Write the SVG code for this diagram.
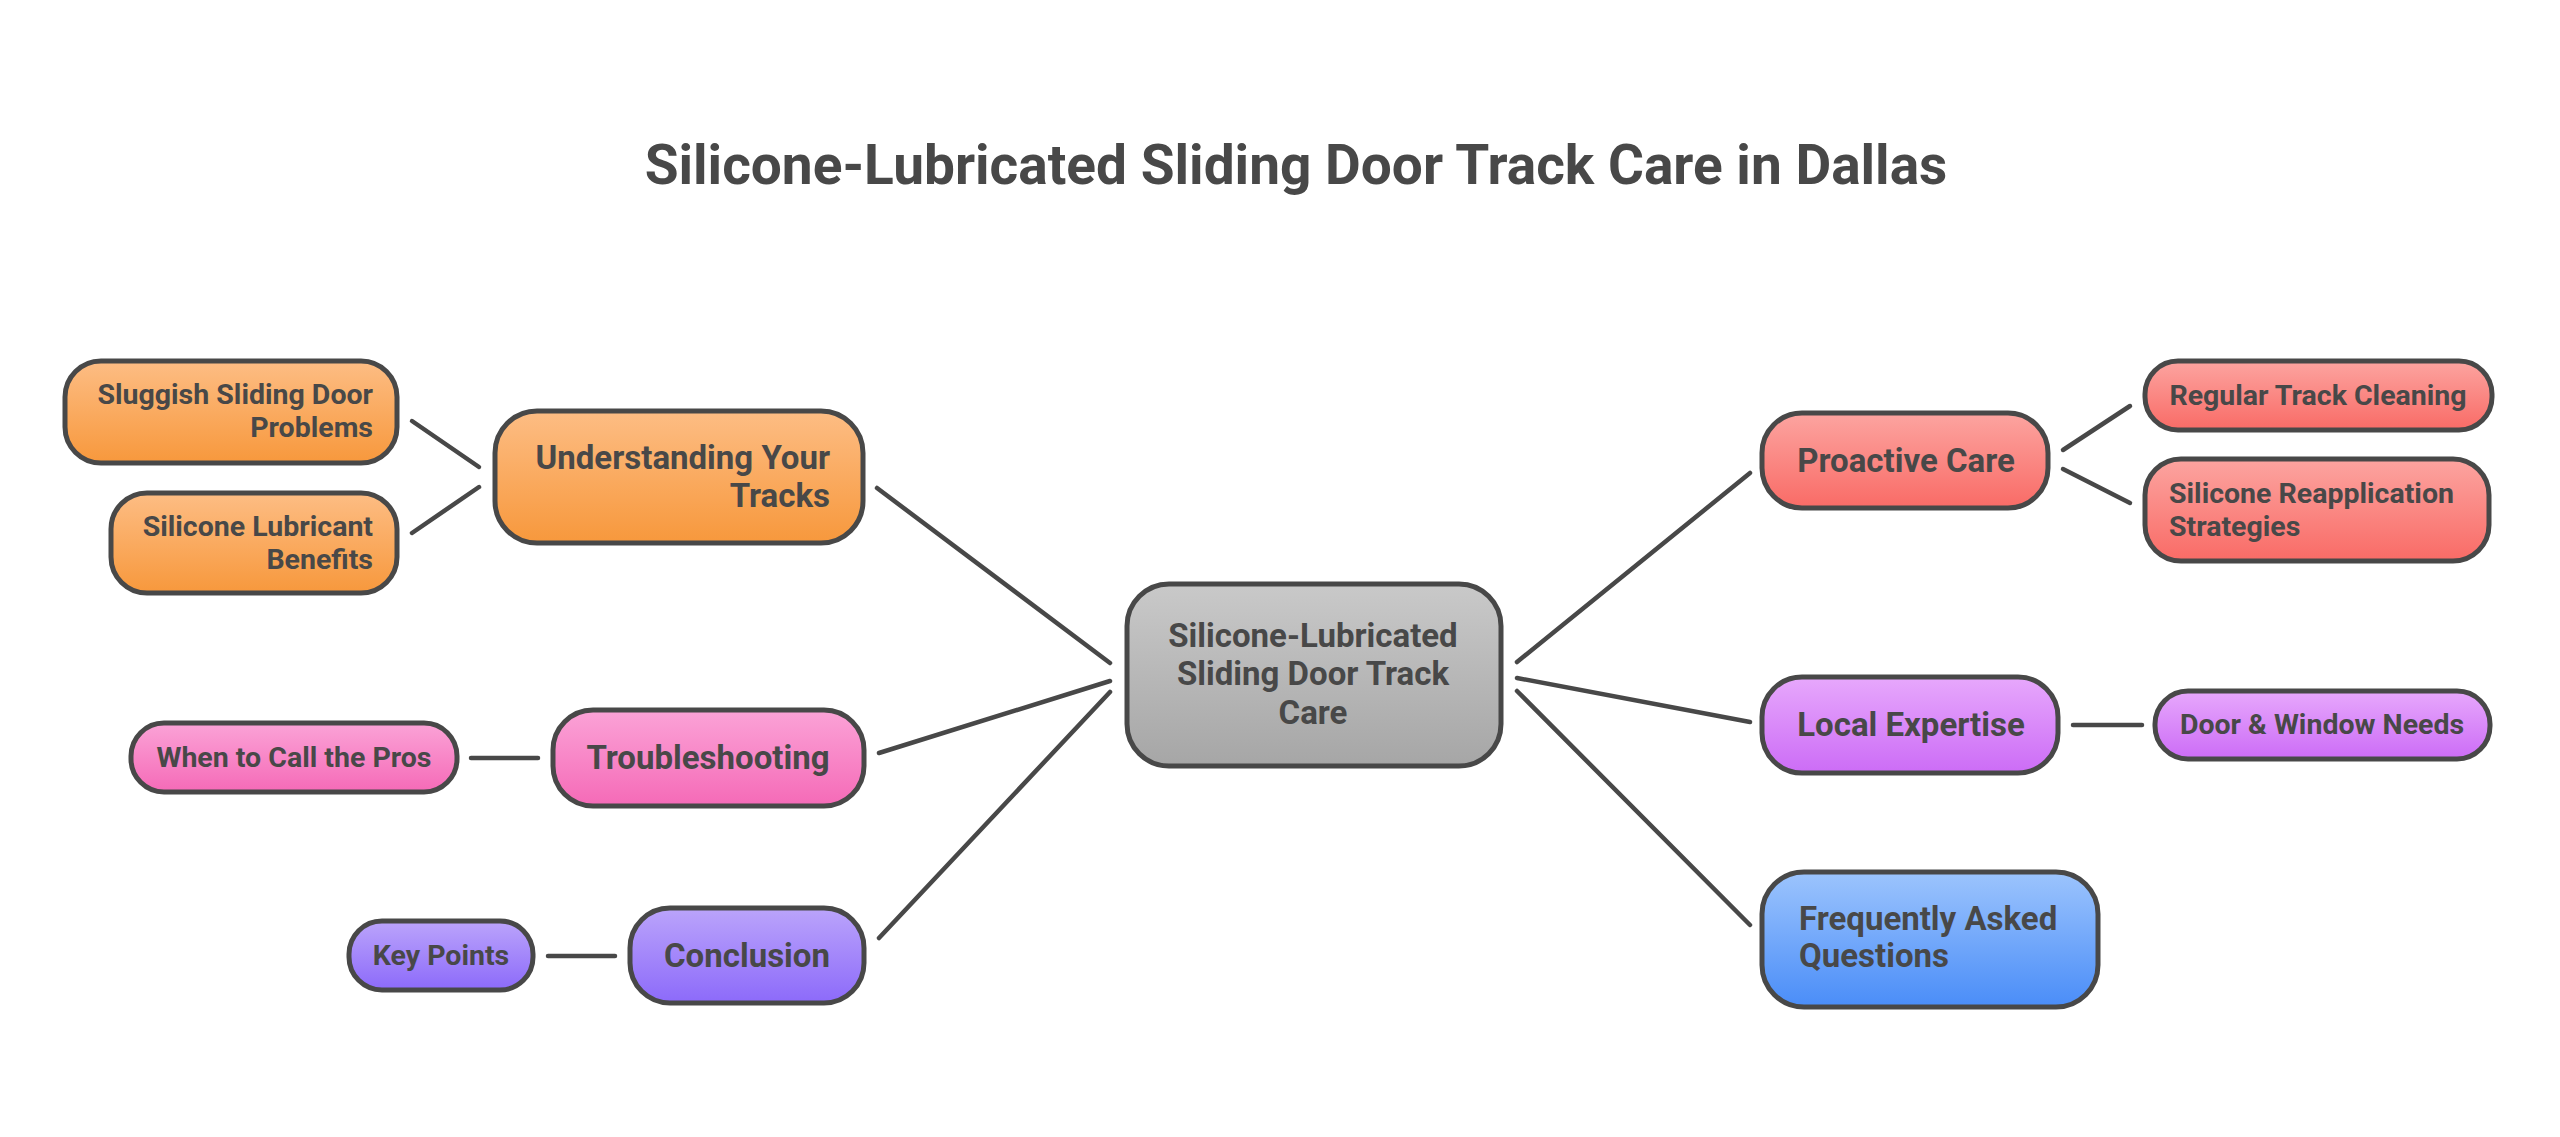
<svg xmlns="http://www.w3.org/2000/svg" width="2560" height="1137" viewBox="0 0 2560 1137">
<defs>
<linearGradient id="gOrange" x1="0" y1="0" x2="0" y2="1"><stop offset="0" stop-color="#fdbd84"/><stop offset="1" stop-color="#f7983c"/></linearGradient>
<linearGradient id="gGray" x1="0" y1="0" x2="0" y2="1"><stop offset="0" stop-color="#c9c9c9"/><stop offset="1" stop-color="#a6a6a6"/></linearGradient>
<linearGradient id="gPink" x1="0" y1="0" x2="0" y2="1"><stop offset="0" stop-color="#fba3d7"/><stop offset="1" stop-color="#f56ab7"/></linearGradient>
<linearGradient id="gPurple" x1="0" y1="0" x2="0" y2="1"><stop offset="0" stop-color="#bba4fb"/><stop offset="1" stop-color="#8c6afa"/></linearGradient>
<linearGradient id="gRed" x1="0" y1="0" x2="0" y2="1"><stop offset="0" stop-color="#fca4a0"/><stop offset="1" stop-color="#f96b66"/></linearGradient>
<linearGradient id="gViolet" x1="0" y1="0" x2="0" y2="1"><stop offset="0" stop-color="#e7a8fc"/><stop offset="1" stop-color="#cc6cf6"/></linearGradient>
<linearGradient id="gBlue" x1="0" y1="0" x2="0" y2="1"><stop offset="0" stop-color="#9cc4fd"/><stop offset="1" stop-color="#4a8df8"/></linearGradient>
</defs>
<style>
.box{stroke:#484848;stroke-width:5}
.t{font-family:Roboto,"Liberation Sans",sans-serif;font-weight:700;fill:#484848}
.s{font-size:28.5px}
.m{font-size:33px}
.c{text-anchor:middle}
.e{text-anchor:end}
.conn line{stroke:#484848;stroke-width:4.5;stroke-linecap:round}
</style>
<rect width="2560" height="1137" fill="#ffffff"/>
<text class="t c" x="1296" y="184" font-size="55">Silicone-Lubricated Sliding Door Track Care in Dallas</text>
<g class="conn" id="connectors">
<line x1="412" y1="421" x2="479" y2="467"/>
<line x1="412" y1="533" x2="479" y2="487"/>
<line x1="877" y1="488" x2="1110" y2="663"/>
<line x1="879" y1="753" x2="1110" y2="681"/>
<line x1="879" y1="938" x2="1110" y2="692"/>
<line x1="471" y1="758" x2="538" y2="758"/>
<line x1="548" y1="956" x2="615" y2="956"/>
<line x1="1517" y1="662" x2="1750" y2="473"/>
<line x1="1517" y1="678" x2="1750" y2="722"/>
<line x1="1517" y1="691" x2="1750" y2="925"/>
<line x1="2063" y1="450" x2="2130" y2="406"/>
<line x1="2063" y1="469" x2="2130" y2="503"/>
<line x1="2073" y1="725" x2="2142" y2="725"/>
</g>
<g id="sluggish">
<rect class="box" x="65" y="361" width="332" height="102" rx="36" fill="url(#gOrange)"/>
<text class="t s e" x="373" y="404">Sluggish Sliding Door</text>
<text class="t s e" x="373" y="437">Problems</text>
</g>
<g id="benefits">
<rect class="box" x="111" y="493" width="286" height="100" rx="36" fill="url(#gOrange)"/>
<text class="t s e" x="373" y="536">Silicone Lubricant</text>
<text class="t s e" x="373" y="569">Benefits</text>
</g>
<g id="understanding">
<rect class="box" x="495" y="411" width="368" height="132" rx="42" fill="url(#gOrange)"/>
<text class="t m e" x="830" y="469">Understanding Your</text>
<text class="t m e" x="830" y="507">Tracks</text>
</g>
<g id="center">
<rect class="box" x="1127" y="584" width="374" height="182" rx="42" fill="url(#gGray)"/>
<text class="t m c" x="1313" y="647">Silicone-Lubricated</text>
<text class="t m c" x="1313" y="685">Sliding Door Track</text>
<text class="t m c" x="1313" y="724">Care</text>
</g>
<g id="troubleshooting">
<rect class="box" x="553" y="710" width="311" height="96" rx="40" fill="url(#gPink)"/>
<text class="t m c" x="708" y="769">Troubleshooting</text>
</g>
<g id="callpros">
<rect class="box" x="131" y="723" width="326" height="69" rx="33" fill="url(#gPink)"/>
<text class="t s c" x="294" y="767">When to Call the Pros</text>
</g>
<g id="conclusion">
<rect class="box" x="630" y="908" width="234" height="95" rx="40" fill="url(#gPurple)"/>
<text class="t m c" x="747" y="967">Conclusion</text>
</g>
<g id="keypoints">
<rect class="box" x="349" y="921" width="184" height="69" rx="33" fill="url(#gPurple)"/>
<text class="t s c" x="441" y="965">Key Points</text>
</g>
<g id="proactive">
<rect class="box" x="1762" y="413" width="286" height="95" rx="40" fill="url(#gRed)"/>
<text class="t m c" x="1906" y="472">Proactive Care</text>
</g>
<g id="regular">
<rect class="box" x="2145" y="361" width="347" height="69" rx="33" fill="url(#gRed)"/>
<text class="t s c" x="2318" y="405">Regular Track Cleaning</text>
</g>
<g id="reapplication">
<rect class="box" x="2145" y="459" width="344" height="102" rx="36" fill="url(#gRed)"/>
<text class="t s" x="2169" y="503">Silicone Reapplication</text>
<text class="t s" x="2169" y="536">Strategies</text>
</g>
<g id="local">
<rect class="box" x="1762" y="677" width="296" height="96" rx="40" fill="url(#gViolet)"/>
<text class="t m c" x="1911" y="736">Local Expertise</text>
</g>
<g id="doorwindow">
<rect class="box" x="2155" y="691" width="335" height="68" rx="33" fill="url(#gViolet)"/>
<text class="t s c" x="2322" y="734">Door &amp; Window Needs</text>
</g>
<g id="faq">
<rect class="box" x="1762" y="872" width="336" height="135" rx="42" fill="url(#gBlue)"/>
<text class="t m" x="1799" y="930">Frequently Asked</text>
<text class="t m" x="1799" y="967">Questions</text>
</g>
</svg>
